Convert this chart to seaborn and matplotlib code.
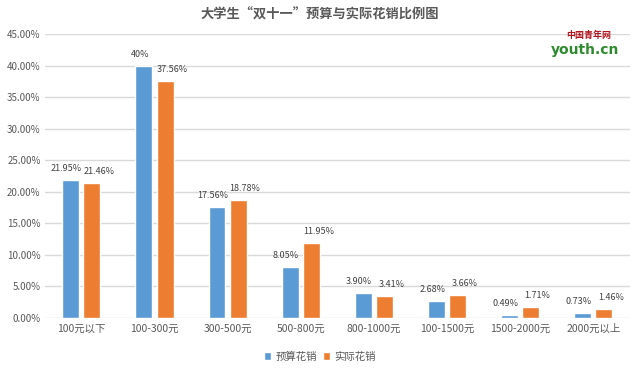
import pandas as pd
import matplotlib.pyplot as plt
import seaborn as sns

# Chart data
categories = ['100元以下', '100-300元', '300-500元', '500-800元',
              '800-1000元', '100-1500元', '1500-2000元', '2000元以上']
budget = [21.95, 40.00, 17.56, 8.05, 3.90, 2.68, 0.49, 0.73]
actual = [21.46, 37.56, 18.78, 11.95, 3.41, 3.66, 1.71, 1.46]
budget_labels = ['21.95%', '40%', '17.56%', '8.05%', '3.90%', '2.68%', '0.49%', '0.73%']
actual_labels = ['21.46%', '37.56%', '18.78%', '11.95%', '3.41%', '3.66%', '1.71%', '1.46%']
series_names = ['预算花销', '实际花销']

df = pd.DataFrame({
    'cat': categories * 2,
    'val': budget + actual,
    'series': [series_names[0]] * len(categories) + [series_names[1]] * len(categories),
})

sns.set_style('white')
plt.rcParams['font.family'] = ['Noto Sans CJK SC', 'DejaVu Sans']

grey = '#595959'
colors = ['#5B9BD5', '#ED7D31']

fig = plt.figure(figsize=(6.4, 3.71), dpi=100)
ax = fig.add_axes([0.07, 0.143, 0.914, 0.765])

sns.barplot(data=df, x='cat', y='val', hue='series', palette=colors,
            width=0.58, gap=0.2, saturation=1, ax=ax, legend=True)

ax.set_ylim(0, 45)
ax.set_yticks([0, 5, 10, 15, 20, 25, 30, 35, 40, 45])
ax.set_yticklabels([f'{v:.2f}%' for v in ax.get_yticks()], fontsize=7, color=grey)
ax.set_xlabel('')
ax.set_ylabel('')
ax.set_xlim(-0.5, len(categories) - 0.5)
ax.tick_params(axis='x', labelsize=7.5, colors=grey, length=0, pad=4)
ax.tick_params(axis='y', length=0, pad=3)
ax.grid(axis='y', color='#d9d9d9', linewidth=1)
ax.set_axisbelow(True)
for s in ax.spines.values():
    s.set_visible(False)

# Data labels
for cont, labels, dx in zip(ax.containers, [budget_labels, actual_labels], [-3, 5]):
    for bar, lab in zip(cont, labels):
        x = bar.get_x() + bar.get_width() / 2
        y = bar.get_height()
        ax.annotate(lab, (x, y), xytext=(dx, 5), textcoords='offset points',
                    ha='center', va='bottom', fontsize=6.5, color='#404040')

ax.legend(loc='upper center', bbox_to_anchor=(0.47, -0.085), ncol=2, frameon=False,
          fontsize=7.5, handlelength=0.7, handleheight=0.7, handletextpad=0.4,
          columnspacing=0.6, labelcolor=grey)

fig.text(0.5, 0.962, '大学生“双十一”预算与实际花销比例图', ha='center', va='center',
         fontsize=9.5, fontweight='bold', color=grey)

# Logo text
fig.text(0.885, 0.905, '中国青年网', ha='left', va='center', fontsize=6.5,
         color='#b4141e', fontweight='bold')
fig.text(0.86, 0.865, 'youth.cn', ha='left', va='center', fontsize=10,
         color='#2e8b2e', fontweight='bold', family='DejaVu Sans')

fig.savefig('out.png', dpi=100)
